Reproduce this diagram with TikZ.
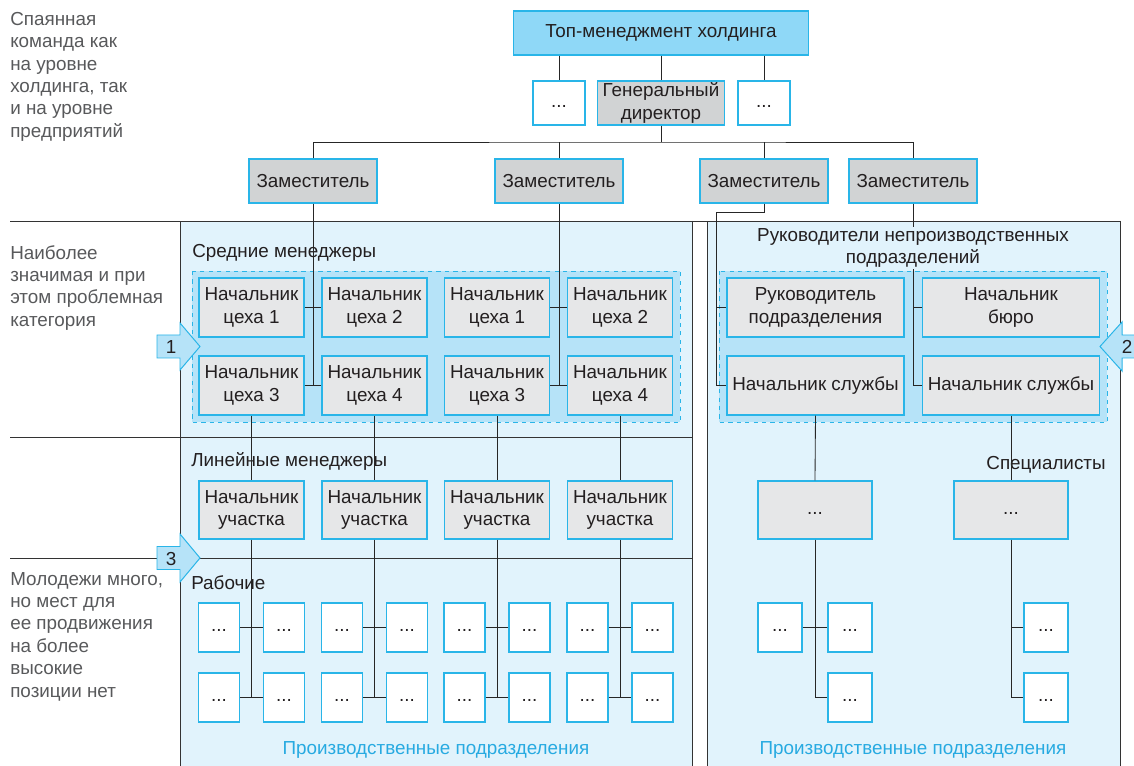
\documentclass[tikz,border=0pt]{standalone}
\usepackage{fontspec}
\setmainfont{Liberation Sans}
\usetikzlibrary{positioning}

\definecolor{topfill}{HTML}{8FD8F7}
\definecolor{boxline}{HTML}{29B5E8}
\definecolor{zamfill}{HTML}{D1D3D4}
\definecolor{shopfill}{HTML}{E6E7E8}
\definecolor{panel}{HTML}{E1F3FC}
\definecolor{grpfill}{HTML}{B6E3F8}
\definecolor{txt}{HTML}{231F20}
\definecolor{sidetxt}{HTML}{58595B}
\definecolor{unittxt}{HTML}{27AAE1}

\newcommand{\dd}{\strut...}

\tikzset{
  box/.style={draw=boxline, line width=0.9pt, text=txt, align=center, inner sep=1pt},
  topbox/.style={box, fill=topfill, minimum width=7.375cm, minimum height=1.1cm},
  zambox/.style={box, fill=zamfill, minimum width=3.2cm, minimum height=1.1cm},
  shopbox/.style={box, fill=shopfill, minimum width=2.625cm, minimum height=1.475cm},
  wide/.style={box, fill=shopfill, minimum width=4.42cm, minimum height=1.475cm},
  dotbox/.style={box, fill=white, minimum width=1.3cm, minimum height=1.1cm},
  worker/.style={box, fill=white, minimum width=1.025cm, minimum height=1.225cm},
  rworker/.style={box, fill=white, minimum width=1.1cm, minimum height=1.225cm},
  link/.style={draw=black!85, line width=0.6pt},
  frame/.style={draw=black!80, line width=0.7pt},
  grp/.style={draw=boxline, dashed, line width=0.7pt, fill=grpfill},
  badge/.style={draw=boxline, line width=0.7pt, fill=grpfill},
  side/.style={text=sidetxt, align=left, anchor=north west, inner sep=0pt},
  level/.style={text=txt, anchor=west, inner sep=0pt},
  unit/.style={text=unittxt, inner sep=0pt}
}

\begin{document}
\begin{tikzpicture}[x=0.025cm, y=-0.025cm, every node/.style={font=\fontsize{13.4}{15.9}\selectfont}]
  \useasboundingbox (0,0) rectangle (1134,766);

  % panels and level lines
  \fill[panel] (180,221) rectangle (692,766);
  \fill[panel] (707,221) rectangle (1120,766);
  \draw[frame] (180,766) -- (180,221);
  \draw[frame] (692,221) -- (692,766);
  \draw[frame] (707,766) -- (707,221);
  \draw[frame] (1120,221) -- (1120,766);
  \draw[frame] (10,221) -- (1120,221);
  \draw[frame] (10,437) -- (692,437);
  \draw[frame] (10,558) -- (692,558);

  \draw[grp] (192,271) rectangle (680,422);
  \draw[grp] (719,271) rectangle (1107,422);

  % left column
  \node[side] (s1) at (10,12) {Спаянная\\команда как\\на уровне\\холдинга, так\\и на уровне\\предприятий};
  \node[side] (s2) at (10,245) {Наиболее\\значимая и при\\этом проблемная\\категория};
  \node[side] (s3) at (10,572) {Молодежи много,\\но мест для\\ее продвижения\\на более\\высокие\\позиции нет};

  % markers
  \filldraw[badge] (157,335) -- (180,335) -- (180,323) -- (200,346.5) -- (180,370) -- (180,358) -- (157,358) -- cycle;
  \node[text=txt] (m1) at (171,347) {1};
  \filldraw[badge] (1134,335) -- (1122,335) -- (1122,322) -- (1100,346.5) -- (1122,371) -- (1122,358) -- (1134,358);
  \filldraw[badge] (157,546.5) -- (180,546.5) -- (180,534) -- (200,558) -- (180,582) -- (180,569.5) -- (157,569.5) -- cycle;
  \node[text=txt] (m2) at (1127,347) {2};
  \node[text=txt] (m3) at (171,559) {3};

  % top
  \node[topbox] (top) at (661,33) {Топ-менеджмент холдинга};
  \node[dotbox] (dl) at (559,103) {\dd};
  \node[zambox, minimum width=3.175cm] (dir) at (661,103) {Генеральный\\директор};
  \node[dotbox] (dr) at (764,103) {\dd};

  \node[zambox] (zam1) at (313,181) {Заместитель};
  \node[zambox] (zam2) at (559,181) {Заместитель};
  \node[zambox] (zam3) at (764,181) {Заместитель};
  \node[zambox] (zam4) at (913,181) {Заместитель};

  % middle managers
  \node[level] (mid) at (192,253) {Средние менеджеры};
  \node[shopbox] (c1) at (251.5,307.5) {Начальник\\цеха 1};
  \node[shopbox] (c2) at (374.5,307.5) {Начальник\\цеха 2};
  \node[shopbox] (c3) at (251.5,385.5) {Начальник\\цеха 3};
  \node[shopbox] (c4) at (374.5,385.5) {Начальник\\цеха 4};
  \node[shopbox] (c5) at (497,307.5) {Начальник\\цеха 1};
  \node[shopbox] (c6) at (620,307.5) {Начальник\\цеха 2};
  \node[shopbox] (c7) at (497,385.5) {Начальник\\цеха 3};
  \node[shopbox] (c8) at (620,385.5) {Начальник\\цеха 4};

  \node[wide] (rr) at (815.5,307.5) {Руководитель\\подразделения};
  \node[wide] (rb) at (1011,307.5) {Начальник\\бюро};
  \node[wide] (rs1) at (815.5,385.5) {Начальник службы};
  \node[wide] (rs2) at (1011,385.5) {Начальник службы};

  % line managers and workers
  \node[level] (lin) at (191,461) {Линейные менеджеры};
  \node[level] (wrk) at (191,583) {Рабочие};
  \foreach \c/\x/\s in {1/251.5/c3,2/374.5/c4,3/497/c7,4/620/c8} {
    \node[shopbox, minimum height=1.45cm] (u\c) at (\x,510) {Начальник\\участка};
    \node[worker] (wa\c) at (\x-32.5,627.5) {\dd};
    \node[worker] (wb\c) at (\x+32.5,627.5) {\dd};
    \node[worker] (wc\c) at (\x-32.5,697.5) {\dd};
    \node[worker] (wd\c) at (\x+32.5,697.5) {\dd};
    \draw[link] (\s.south) -- (u\c.north);
    \draw[link] (u\c.south) -- (u\c.south |- wd\c.west);
    \draw[link] (wa\c.east) -- (wb\c.west);
    \draw[link] (wc\c.east) -- (wd\c.west);
  }

  \node[level, anchor=center] (spc) at (1046,465) {Специалисты};
  \node[zambox, fill=shopfill, minimum width=2.85cm, minimum height=1.45cm] (sp1) at (815,510) {\dd};
  \node[zambox, fill=shopfill, minimum width=2.85cm, minimum height=1.45cm] (sp2) at (1011,510) {\dd};
  \node[rworker] (ra) at (780,627.5) {\dd};
  \node[rworker] (rb1) at (850,627.5) {\dd};
  \node[rworker] (rc) at (850,697.5) {\dd};
  \node[rworker] (rd) at (1046,627.5) {\dd};
  \node[rworker] (re) at (1046,697.5) {\dd};

  \node[unit] (pu1) at (436,750) {Производственные подразделения};
  \node[unit] (pu2) at (913,750) {Производственные подразделения};

  % connectors
  \coordinate (bus) at (661,142);
  \foreach \n in {dl,dir,dr} \draw[link] (top.south -| \n.north) -- (\n.north);
  \draw[link] (dir.south) -- (bus);
  \draw[link] (zam1.north) |- (bus) -| (zam4.north);
  \draw[link] (zam2.north) -- (zam2.north |- bus);
  \draw[link] (zam3.north) -- (zam3.north |- bus);

  \draw[link] (zam1.south) -- (zam1.south |- c3.east);
  \draw[link] (c1.east) -- (c2.west);
  \draw[link] (c3.east) -- (c4.west);
  \draw[link] (zam2.south) -- (zam2.south |- c7.east);
  \draw[link] (c5.east) -- (c6.west);
  \draw[link] (c7.east) -- (c8.west);

  \coordinate (k3) at (716,212);
  \draw[link] (zam3.south) |- (k3) |- (rs1.west);
  \draw[link] (k3 |- rr.west) -- (rr.west);
  \draw[link] (zam4.south) |- (rs2.west);
  \draw[link] (zam4.south |- rb.west) -- (rb.west);

  \draw[link] (rs1.south) -- (sp1.north);
  \draw[link] (sp1.south) |- (rc.west);
  \draw[link] (ra.east) -- (rb1.west);
  \draw[link] (rs2.south) -- (sp2.north);
  \draw[link] (sp2.south) |- (re.west);
  \draw[link] (sp2.south |- rd.west) -- (rd.west);

  \node[fill=panel, text=txt, align=center, inner sep=1pt] (ttl) at (913,248) {Руководители непроизводственных\\подразделений};
\end{tikzpicture}
\end{document}
